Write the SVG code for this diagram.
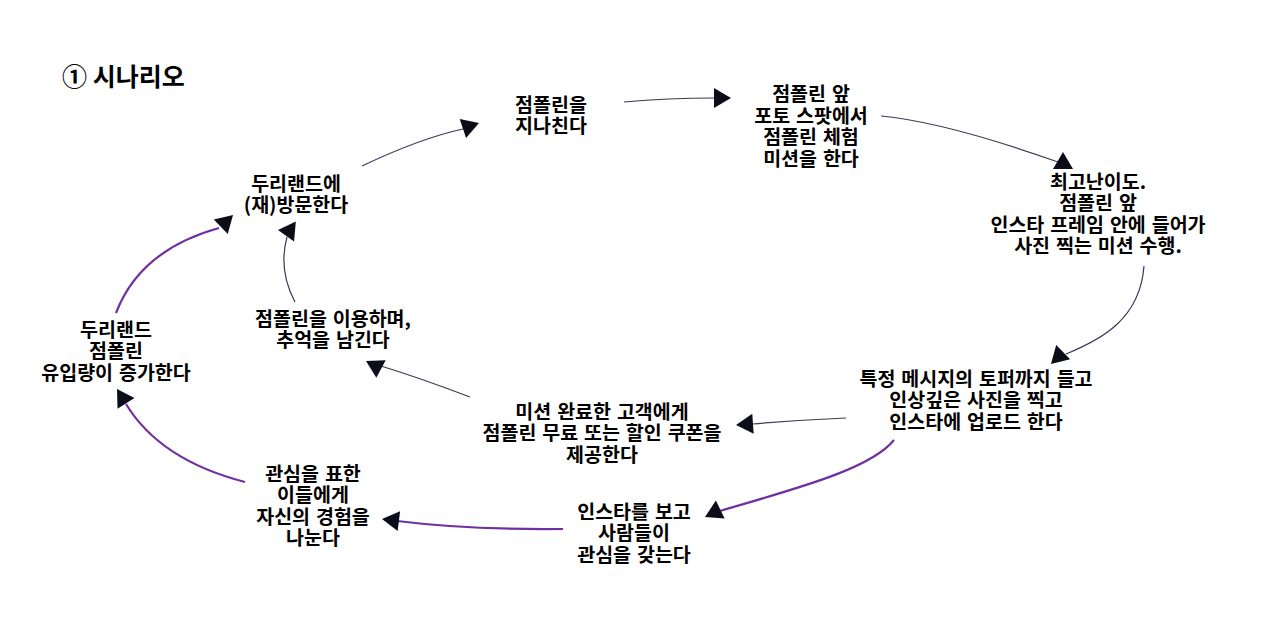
<svg xmlns="http://www.w3.org/2000/svg" xmlns:xlink="http://www.w3.org/1999/xlink" width="1280" height="624" viewBox="0 0 1280 624">
<style>
  .t { font-family: "Noto Sans CJK KR", "Noto Sans", sans-serif; font-weight: 700; font-size: 19.5px; word-spacing: 1.5px; fill: #000; text-anchor: middle; }
  .title { font-family: "Noto Sans CJK KR", "Noto Sans", sans-serif; font-weight: 700; font-size: 25px; fill: #000; }
  .dk { fill: none; stroke: #38385a; stroke-width: 1.2; }
  .pu { fill: none; stroke: #7030a0; stroke-width: 2.2; }
  .ah { fill: #0d0d1a; }
</style>
<defs>
  <path id="ah" d="M0,0 L-17,-10 L-17,10 Z"/>
</defs>
<rect x="0" y="0" width="1280" height="624" fill="#ffffff"/>
<text class="title" x="62" y="86">① 시나리오</text>

<g id="connectors">
  <path class="dk" d="M362,166 Q421,138 463,129"/>
  <use href="#ah" class="ah" transform="translate(479,123) rotate(-18.6)"/>
  <path class="dk" d="M624,102 Q668,98 714,98"/>
  <use href="#ah" class="ah" transform="translate(731,98) rotate(0)"/>
  <path class="dk" d="M881,116 Q945,122 1058,162"/>
  <use href="#ah" class="ah" transform="translate(1063,152) rotate(-90)"/>
  <path class="dk" d="M1144,266 C1140,320 1100,340 1066,354"/>
  <use href="#ah" class="ah" transform="translate(1051,364) rotate(135.7)"/>
  <path class="dk" d="M846,418 Q800,420 752,424"/>
  <use href="#ah" class="ah" transform="translate(736,425) rotate(176)"/>
  <path class="dk" d="M470,397 Q420,378 381,366"/>
  <use href="#ah" class="ah" transform="translate(366,361) rotate(208)"/>
  <path class="dk" d="M295,302 Q278,270 287,237"/>
  <use href="#ah" class="ah" transform="translate(278,230) rotate(185)"/>
  <path class="pu" d="M894,440 C870,470 790,490 720,511"/>
  <use href="#ah" class="ah" transform="translate(705,517) rotate(154)"/>
  <path class="pu" d="M563,529 Q470,530 397,521"/>
  <use href="#ah" class="ah" transform="translate(382,519) rotate(187)"/>
  <path class="pu" d="M245,482 Q160,460 126,404"/>
  <use href="#ah" class="ah" transform="translate(117,389) rotate(-122)"/>
  <path class="pu" d="M116,313 Q140,250 219,228"/>
  <use href="#ah" class="ah" transform="translate(233,215) rotate(-44)"/>
</g>

<g id="n1"><text class="t" x="551" y="111.5"><tspan x="551">점폴린을</tspan><tspan x="551" dy="21.5">지나친다</tspan></text></g>
<g id="n2"><text class="t" x="811" y="101"><tspan x="811">점폴린 앞</tspan><tspan x="811" dy="21.5">포토 스팟에서</tspan><tspan x="811" dy="21.5">점폴린 체험</tspan><tspan x="811" dy="21.5">미션을 한다</tspan></text></g>
<g id="n3"><text class="t" x="1098" y="188.5"><tspan x="1098">최고난이도.</tspan><tspan x="1098" dy="21.5">점폴린 앞</tspan><tspan x="1098" dy="21.5">인스타 프레임 안에 들어가</tspan><tspan x="1098" dy="21.5">사진 찍는 미션 수행.</tspan></text></g>
<g id="n4"><text class="t" x="976" y="385.5"><tspan x="976">특정 메시지의 토퍼까지 들고</tspan><tspan x="976" dy="21.5">인상깊은 사진을 찍고</tspan><tspan x="976" dy="21.5">인스타에 업로드 한다</tspan></text></g>
<g id="n5"><text class="t" x="602" y="418.5"><tspan x="602">미션 완료한 고객에게</tspan><tspan x="602" dy="21.5">점폴린 무료 또는 할인 쿠폰을</tspan><tspan x="602" dy="21.5">제공한다</tspan></text></g>
<g id="n6"><text class="t" x="634" y="518.5"><tspan x="634">인스타를 보고</tspan><tspan x="634" dy="21.5">사람들이</tspan><tspan x="634" dy="21.5">관심을 갖는다</tspan></text></g>
<g id="n7"><text class="t" x="313" y="480.5"><tspan x="313">관심을 표한</tspan><tspan x="313" dy="21.5">이들에게</tspan><tspan x="313" dy="21.5">자신의 경험을</tspan><tspan x="313" dy="21.5">나눈다</tspan></text></g>
<g id="n8"><text class="t" x="116" y="336.5"><tspan x="116">두리랜드</tspan><tspan x="116" dy="21.5">점폴린</tspan><tspan x="116" dy="21.5">유입량이 증가한다</tspan></text></g>
<g id="n9"><text class="t" x="333" y="325.5"><tspan x="333">점폴린을 이용하며,</tspan><tspan x="333" dy="21.5">추억을 남긴다</tspan></text></g>
<g id="n10"><text class="t" x="296" y="190.5"><tspan x="296">두리랜드에</tspan><tspan x="296" dy="21.5">(재)방문한다</tspan></text></g>
</svg>
